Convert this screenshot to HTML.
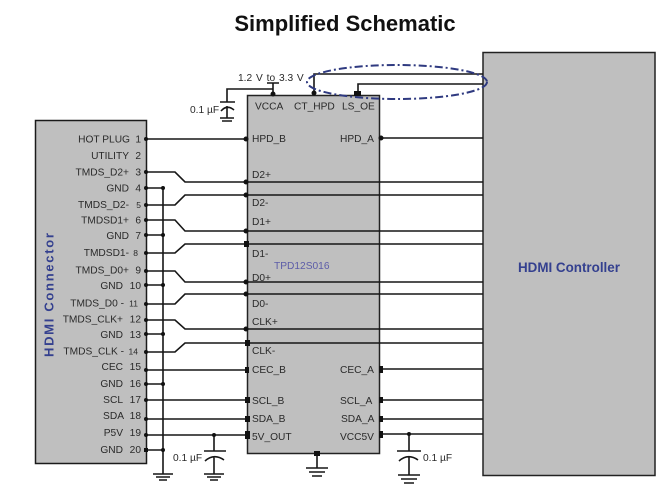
<!DOCTYPE html>
<html><head><meta charset="utf-8"><style>
html,body{margin:0;padding:0;background:#fff}
svg{display:block}
text{font-family:"Liberation Sans",sans-serif;fill:#2a2a2a;font-size:10.2px}
.n{text-anchor:end}
.s{font-size:8.5px}
.w{stroke:#161616;stroke-width:1.6;fill:none}
.b{fill:#111;stroke:none}
</style></head><body>
<svg width="671" height="490" viewBox="0 0 671 490" xmlns="http://www.w3.org/2000/svg">
<rect width="671" height="490" fill="#fff"/>
<text x="345" y="31" text-anchor="middle" style="font-size:22px;font-weight:bold;fill:#111">Simplified Schematic</text>

<rect x="35.500" y="120.500" width="111" height="343" fill="#bfbfbf" stroke="#1a1a1a" stroke-width="1.500"/>
<rect x="247.500" y="95.500" width="132" height="358" fill="#bfbfbf" stroke="#222" stroke-width="1.500"/>
<rect x="483" y="52.500" width="172" height="423" fill="#bfbfbf" stroke="#222" stroke-width="1.500"/>

<g class="w">
<path d="M146 139H247M379 138H483"/>
<path d="M146 172H175L185 182H483"/>
<path d="M146 205H175L185 195H483"/>
<path d="M146 220H175L185 231H483"/>
<path d="M146 253H175L185 244H483"/>
<path d="M146 271H175L185 282H483"/>
<path d="M146 304H175L185 294H483"/>
<path d="M146 320H175L185 329H483"/>
<path d="M146 352H175L185 343H483"/>
<path d="M146 370H247M146 400H247M146 419H247M146 435H247"/>
<path d="M379 369H483M379 400H483M379 419H483M379 434H483"/>
<path d="M146 188H163M146 235H163M146 285H163M146 334H163M146 384H163M146 450H163"/>
<path d="M163 188V474"/>
<path d="M153 474H173M156 477H170M159 480H167"/>
<path d="M214 435V451M204 451H226M205 461Q214 453 224 460M214 456V474M204 474H224M207 477H221M210 480H218"/>
<path d="M409 434V451M397 451H421M399 461Q408 453 418 460M409 456V475M398 475H420M401 479H417M404 483H414"/>
<path d="M317 453V468M306 468H328M309 472H325M312 476H322"/>
<path d="M267 83H279M273 83V95M273 89H227V102M220 102H235M221 111Q227 104 234 110M227 106V118M220 118H234M222 121H232"/>
<path d="M314 95V74H483M358 95V84H483"/>
</g>

<g class="b">
<circle cx="146" cy="139" r="2"/><circle cx="146" cy="172" r="2"/><circle cx="146" cy="188" r="2"/><circle cx="146" cy="205" r="2"/><circle cx="146" cy="220" r="2"/><circle cx="146" cy="235" r="2"/><circle cx="146" cy="253" r="2"/><circle cx="146" cy="271" r="2"/><circle cx="146" cy="285" r="2"/><circle cx="146" cy="304" r="2"/><circle cx="146" cy="320" r="2"/><circle cx="146" cy="334" r="2"/><circle cx="146" cy="352" r="2"/><circle cx="146" cy="370" r="2"/><circle cx="146" cy="384" r="2"/><circle cx="146" cy="400" r="2"/><circle cx="146" cy="419" r="2"/><circle cx="146" cy="435" r="2"/><rect x="144" y="448" width="4" height="4"/>
<circle cx="163" cy="188" r="2"/><circle cx="163" cy="235" r="2"/><circle cx="163" cy="285" r="2"/><circle cx="163" cy="334" r="2"/><circle cx="163" cy="384" r="2"/><circle cx="163" cy="450" r="2"/>
<circle cx="214" cy="435" r="2"/><circle cx="409" cy="434" r="2"/>
<circle cx="246" cy="139" r="2.500"/><circle cx="246" cy="182" r="2.500"/><circle cx="246" cy="195" r="2.500"/><circle cx="246" cy="231" r="2.500"/><rect x="244" y="241" width="5" height="6"/><circle cx="246" cy="282" r="2.500"/><circle cx="246" cy="294" r="2.500"/><circle cx="246" cy="329" r="2.500"/><rect x="245" y="340" width="5" height="6"/>
<rect x="245" y="367" width="4" height="6"/><rect x="245" y="397" width="5" height="6"/><rect x="245" y="416" width="5" height="6"/><rect x="245" y="431" width="5" height="8"/>
<circle cx="381" cy="138" r="2.500"/><rect x="379" y="366" width="4" height="7"/><rect x="379" y="397" width="4" height="6"/><rect x="379" y="416" width="4" height="6"/><rect x="379" y="431" width="4" height="7"/>
<rect x="314" y="451" width="6" height="5"/>
<circle cx="273" cy="94" r="2.500"/><circle cx="314" cy="93" r="2.500"/><rect x="354" y="91" width="7" height="5"/>
</g>

<ellipse cx="397" cy="82" rx="90" ry="17" fill="none" stroke="#2f3a80" stroke-width="2" stroke-dasharray="8 3 2 3"/>

<g>
<text class="n" x="130" y="142.500">HOT PLUG</text><text class="n" x="141" y="142.500">1</text>
<text class="n" x="129" y="159">UTILITY</text><text class="n" x="141" y="159">2</text>
<text class="n" x="129" y="175.500">TMDS_D2+</text><text class="n" x="141" y="175.500">3</text>
<text class="n" x="129" y="191.500">GND</text><text class="n" x="141" y="191.500">4</text>
<text class="n" x="129" y="208">TMDS_D2-</text><text class="n s" x="141" y="208">5</text>
<text class="n" x="129" y="223.500">TMDSD1+</text><text class="n" x="141" y="223.500">6</text>
<text class="n" x="129" y="239">GND</text><text class="n" x="141" y="239">7</text>
<text class="n" x="129" y="256">TMDSD1-</text><text class="n s" x="138" y="256">8</text>
<text class="n" x="129" y="273.500">TMDS_D0+</text><text class="n" x="141" y="273.500">9</text>
<text class="n" x="123" y="289">GND</text><text class="n" x="141" y="289">10</text>
<text class="n" x="124" y="306.500">TMDS_D0 -</text><text class="n s" x="138" y="306.500">11</text>
<text class="n" x="123" y="322.500">TMDS_CLK+</text><text class="n" x="141" y="322.500">12</text>
<text class="n" x="123" y="338">GND</text><text class="n" x="141" y="338">13</text>
<text class="n" x="124" y="354.500">TMDS_CLK -</text><text class="n s" x="138" y="354.500">14</text>
<text class="n" x="123" y="370">CEC</text><text class="n" x="141" y="370">15</text>
<text class="n" x="123" y="387">GND</text><text class="n" x="141" y="387">16</text>
<text class="n" x="123" y="403">SCL</text><text class="n" x="141" y="403">17</text>
<text class="n" x="124" y="419">SDA</text><text class="n" x="141" y="419">18</text>
<text class="n" x="123" y="436">P5V</text><text class="n" x="141" y="436">19</text>
<text class="n" x="123" y="453">GND</text><text class="n" x="141" y="453">20</text>

<text x="255" y="109.500">VCCA</text><text x="294" y="109.500">CT_HPD</text><text x="342" y="109.500">LS_OE</text>
<text x="252" y="142">HPD_B</text><text x="340" y="142">HPD_A</text>
<text x="252" y="178">D2+</text><text x="252" y="206">D2-</text><text x="252" y="225">D1+</text><text x="252" y="257">D1-</text><text x="252" y="281">D0+</text><text x="252" y="307">D0-</text><text x="252" y="325">CLK+</text><text x="252" y="354">CLK-</text>
<text x="252" y="373">CEC_B</text><text x="252" y="404">SCL_B</text><text x="252" y="422">SDA_B</text><text x="252" y="440">5V_OUT</text>
<text x="340" y="373">CEC_A</text><text x="340" y="404">SCL_A</text><text x="341" y="422">SDA_A</text><text x="340" y="440">VCC5V</text>

<text x="238" y="81" style="word-spacing:1px">1.2 V  to 3.3 V</text>
<text x="190" y="113">0.1 µF</text>
<text x="173" y="461">0.1 µF</text>
<text x="423" y="461">0.1 µF</text>

<text x="274" y="269" style="fill:#5c5ca8">TPD12S016</text>
<text x="518" y="272" style="font-size:13.400px;font-weight:bold;fill:#34408f">HDMI Controller</text>
<text transform="translate(53.500,357) rotate(-90)" style="font-size:13px;font-weight:bold;fill:#34408f;letter-spacing:1.700px">HDMI Connector</text>
</g>
</svg>
</body></html>
